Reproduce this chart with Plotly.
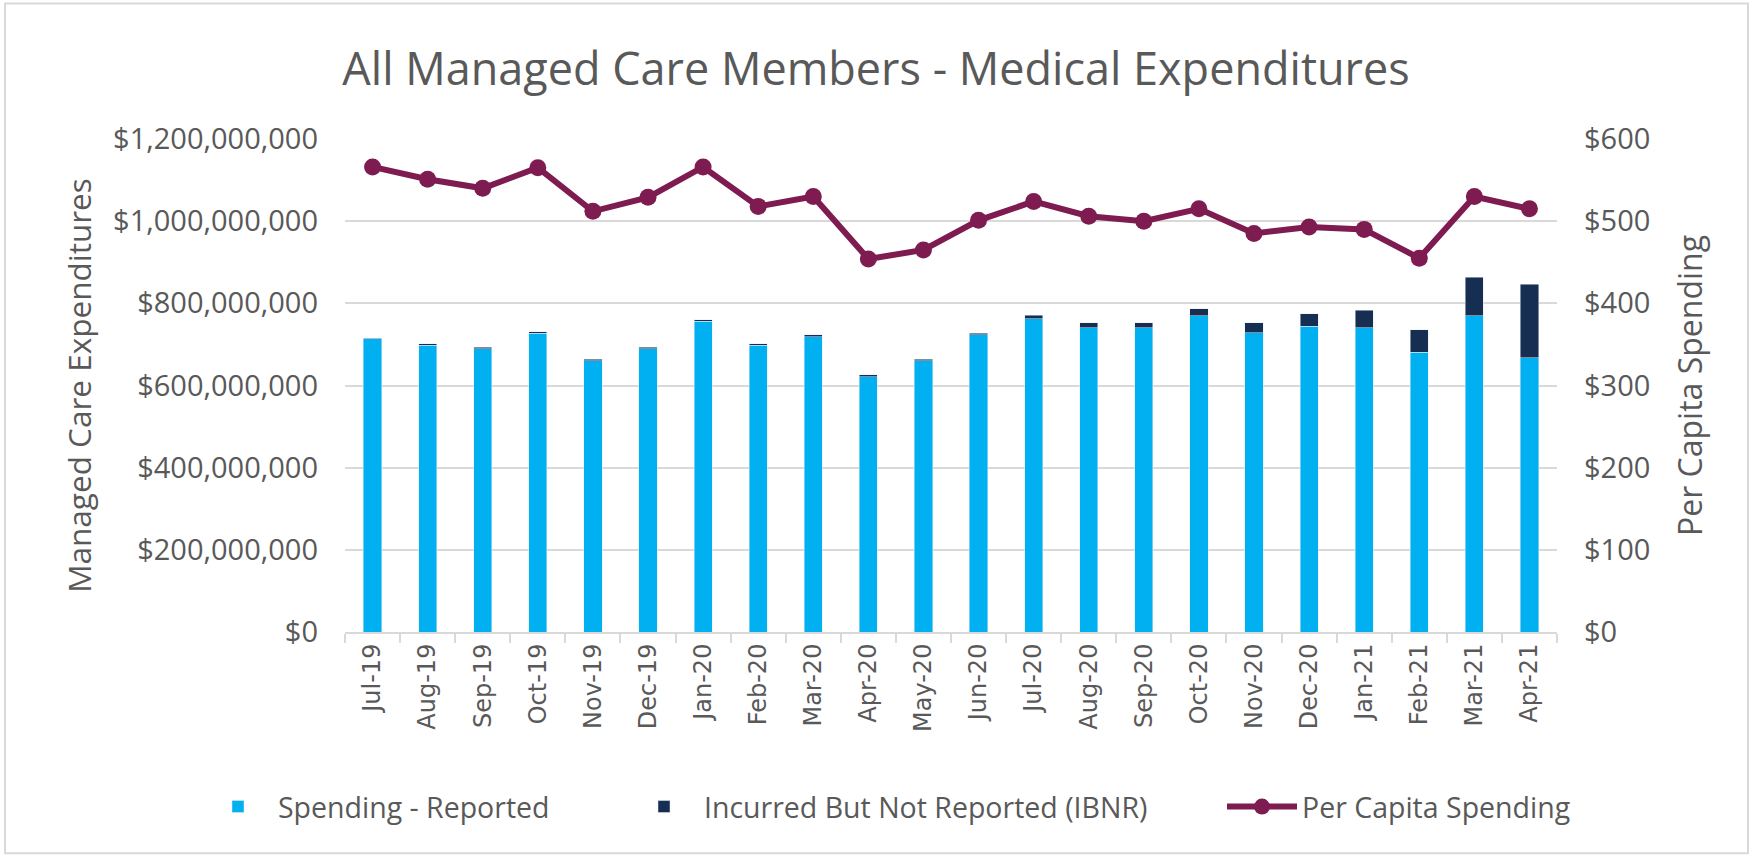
import plotly.graph_objects as go

months = ["Jul-19", "Aug-19", "Sep-19", "Oct-19", "Nov-19", "Dec-19",
          "Jan-20", "Feb-20", "Mar-20", "Apr-20", "May-20", "Jun-20",
          "Jul-20", "Aug-20", "Sep-20", "Oct-20", "Nov-20", "Dec-20",
          "Jan-21", "Feb-21", "Mar-21", "Apr-21"]

# dollars
spending_reported = [714e6, 698e6, 689e6, 727e6, 660e6, 689e6,
                     757e6, 698e6, 719e6, 621e6, 660e6, 723e6,
                     762e6, 740e6, 740e6, 770e6, 728e6, 744e6,
                     740e6, 681e6, 770e6, 668e6]
ibnr = [1e6, 4e6, 4e6, 4e6, 4e6, 4e6,
        3e6, 4e6, 4e6, 5e6, 4e6, 4e6,
        9e6, 13e6, 13e6, 17e6, 25e6, 31e6,
        43e6, 55e6, 94e6, 178e6]
per_capita = [566, 551, 540, 565, 512, 529,
              566, 518, 530, 454, 465, 501,
              524, 506, 500, 515, 485, 493,
              490, 455, 530, 515]

TEXT = "#595959"
GRID = "#d9d9d9"
FONT = "Open Sans"

fig = go.Figure()

fig.add_trace(go.Bar(
    x=months, y=spending_reported, name="Spending - Reported",
    marker=dict(color="#00b0f0"), legend="legend",
))
fig.add_trace(go.Bar(
    x=months, y=ibnr, name="Incurred But Not Reported (IBNR)",
    marker=dict(color="#152e52"), legend="legend2",
))
fig.add_trace(go.Scatter(
    x=months, y=per_capita, name="Per Capita Spending", yaxis="y2",
    mode="lines+markers",
    line=dict(color="#7e1b50", width=6),
    marker=dict(color="#7e1b50", size=17),
    legend="legend3",
))

legend_style = dict(orientation="h", yanchor="middle", y=-0.355, xanchor="left",
                    itemwidth=70,
                    font=dict(family=FONT, size=28.5, color=TEXT),
                    bgcolor="rgba(0,0,0,0)")

fig.update_layout(
    width=1752,
    height=858,
    margin=dict(l=345, r=195, t=139, b=226, autoexpand=False),
    paper_bgcolor="white",
    plot_bgcolor="white",
    barmode="stack",
    bargap=0.67,
    showlegend=True,
    title=dict(text="All Managed Care Members - Medical Expenditures",
               x=0.5, xanchor="center", y=1 - 69 / 858, yanchor="middle",
               font=dict(family=FONT, size=45, color=TEXT)),
    xaxis=dict(
        range=[-0.5, len(months) - 0.5],
        tickangle=-90,
        tickfont=dict(family="DejaVu Sans", size=24, color=TEXT),
        showline=True, linecolor=GRID, linewidth=2,
        ticks="outside", tickson="boundaries", ticklen=9,
        tickcolor=GRID, tickwidth=2,
        showgrid=False,
    ),
    yaxis=dict(
        range=[0, 1.2e9], dtick=2e8, tickformat="$,.0f",
        tickfont=dict(family=FONT, size=29, color=TEXT),
        gridcolor=GRID, gridwidth=2, zeroline=False,
        ticklabelstandoff=26,
        title=dict(text="Managed Care Expenditures", standoff=12,
                   font=dict(family=FONT, size=31.5, color=TEXT)),
    ),
    yaxis2=dict(
        range=[0, 600], dtick=100, tickformat="$,.0f",
        overlaying="y", side="right", showgrid=False, zeroline=False,
        tickfont=dict(family=FONT, size=29, color=TEXT),
        ticklabelstandoff=26,
        title=dict(text="Per Capita Spending", standoff=30,
                   font=dict(family=FONT, size=32, color=TEXT)),
    ),
    legend=dict(legend_style, x=-0.1213),
    legend2=dict(legend_style, x=0.2302),
    legend3=dict(legend_style, x=0.7236),
    shapes=[dict(type="rect", xref="paper", yref="paper",
                 x0=-0.2805, x1=1.1576, y0=-0.4486, y1=1.2749,
                 line=dict(color=GRID, width=2))],
)

# the page's default body margin would push the figure 8px right and down
fig.write_html("out.html", config={"displayModeBar": False},
               post_script="document.body.style.margin = '0';")
